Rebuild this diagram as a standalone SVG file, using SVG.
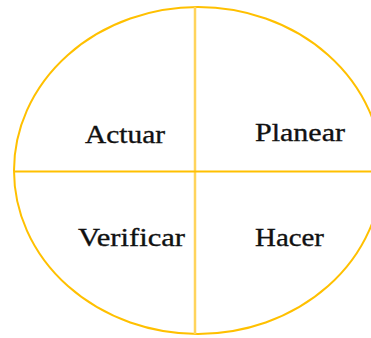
<svg xmlns="http://www.w3.org/2000/svg" width="371" height="338" viewBox="0 0 371 338">
<style>
text{font-family:"Liberation Serif","Times New Roman",serif;font-size:26px;fill:#111111;stroke:#111111;stroke-width:0.35}
</style>
<rect width="371" height="338" fill="#ffffff"/>
<g id="connectors">
<ellipse id="circle" cx="198" cy="170.5" rx="184" ry="163.5" fill="none" stroke="#FFC000" stroke-width="2"/>
<line x1="195" y1="7" x2="195" y2="334" stroke="#FFD45C" stroke-width="2.5"/>
<line x1="14" y1="171.5" x2="382" y2="171.5" stroke="#FFC000" stroke-width="2"/>
</g>
<g id="actuar"><text x="85" y="142.5" textLength="80" lengthAdjust="spacingAndGlyphs">Actuar</text></g>
<g id="planear"><text x="255" y="141" textLength="90" lengthAdjust="spacingAndGlyphs">Planear</text></g>
<g id="verificar"><text x="78" y="246" textLength="107" lengthAdjust="spacingAndGlyphs">Verificar</text></g>
<g id="hacer"><text x="255" y="246" textLength="69" lengthAdjust="spacingAndGlyphs">Hacer</text></g>
</svg>
